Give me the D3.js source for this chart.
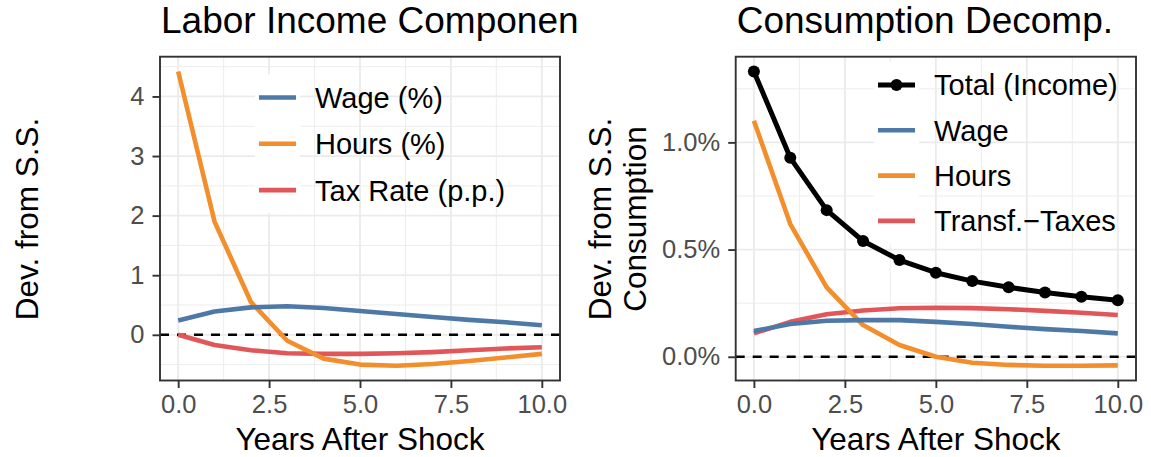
<!DOCTYPE html>
<html>
<head>
<meta charset="utf-8">
<script src="https://cdn.jsdelivr.net/npm/d3@7"></script>
<style>
  body { margin: 0; background: #fff; }
  text { font-family: "Liberation Sans", Arial, sans-serif; }
</style>
</head>
<body>
<div id="chart"></div>
<script>
// data (years after shock 0..10)
var years = [0, 1, 2, 3, 4, 5, 6, 7, 8, 9, 10];
var xTicks = [0, 2.5, 5, 7.5, 10];

// left panel: labor income components
var wagePct  = [0.24, 0.39, 0.46, 0.48, 0.45, 0.40, 0.35, 0.30, 0.25, 0.21, 0.16];
var hoursPct = [4.42, 1.90, 0.55, -0.10, -0.40, -0.50, -0.52, -0.49, -0.44, -0.38, -0.32];
var taxPP    = [0.00, -0.17, -0.26, -0.31, -0.32, -0.32, -0.31, -0.29, -0.26, -0.23, -0.21];
var leftTicks = [0, 1, 2, 3, 4];
var leftLabels = ["Wage (%)", "Hours (%)", "Tax Rate (p.p.)"];

// right panel: consumption decomposition (%)
var totalC  = [1.331, 0.928, 0.684, 0.540, 0.451, 0.392, 0.353, 0.324, 0.300, 0.280, 0.264];
var wageC   = [0.120, 0.153, 0.168, 0.171, 0.171, 0.163, 0.153, 0.140, 0.129, 0.120, 0.109];
var hoursC  = [1.101, 0.619, 0.324, 0.148, 0.055, 0.000, -0.028, -0.038, -0.042, -0.042, -0.040];
var transfC = [0.109, 0.163, 0.198, 0.216, 0.226, 0.229, 0.227, 0.222, 0.214, 0.205, 0.195];
var rightTicks = [0, 0.5, 1.0];
var rightLabels = ["Total (Income)", "Wage", "Hours", "Transf.\u2212Taxes"];

var blue = "#4E79A7", orange = "#F28E2B", red = "#E15759";

var W = 1151, H = 457;
var svg = d3.select("#chart").append("svg")
    .attr("width", W).attr("height", H);

svg.append("defs").append("clipPath").attr("id", "leftclip")
  .append("rect").attr("x", 0).attr("y", 0).attr("width", 577).attr("height", H);

function expand(vals) {
  var ext = d3.extent(vals);
  var pad = (ext[1] - ext[0]) * 0.05;
  return [ext[0] - pad, ext[1] + pad];
}

function panel(opt) {
  var g = svg.append("g");
  var x = d3.scaleLinear().domain([-0.5, 10.5]).range([opt.left, opt.right]);
  var y = d3.scaleLinear().domain(expand(d3.merge(opt.series.map(function(s) { return s.values; }))))
      .range([opt.bottom, opt.top]);

  // gridlines (minor then major)
  var xMinor = d3.range(1.25, 10, 2.5);
  var yStep = opt.yTicks[1] - opt.yTicks[0];
  var yMinor = d3.range(opt.yTicks[0] - yStep / 2, y.domain()[1], yStep)
      .filter(function(v) { return v > y.domain()[0] && opt.yTicks.indexOf(v) < 0; });
  g.selectAll(".xminor").data(xMinor).enter().append("line")
    .attr("x1", x).attr("x2", x).attr("y1", opt.top).attr("y2", opt.bottom)
    .attr("stroke", "#ebebeb").attr("stroke-width", 0.9);
  g.selectAll(".yminor").data(yMinor).enter().append("line")
    .attr("y1", y).attr("y2", y).attr("x1", opt.left).attr("x2", opt.right)
    .attr("stroke", "#ebebeb").attr("stroke-width", 0.9);
  g.selectAll(".xmajor").data(xTicks).enter().append("line")
    .attr("x1", x).attr("x2", x).attr("y1", opt.top).attr("y2", opt.bottom)
    .attr("stroke", "#ebebeb").attr("stroke-width", 1.8);
  g.selectAll(".ymajor").data(opt.yTicks).enter().append("line")
    .attr("y1", y).attr("y2", y).attr("x1", opt.left).attr("x2", opt.right)
    .attr("stroke", "#ebebeb").attr("stroke-width", 1.8);

  // zero line
  g.append("line")
    .attr("x1", opt.left).attr("x2", opt.right).attr("y1", y(0)).attr("y2", y(0))
    .attr("stroke", "#000").attr("stroke-width", 2.4).attr("stroke-dasharray", "9,8");

  // series
  var line = d3.line()
    .x(function(d, i) { return x(years[i]); })
    .y(function(d) { return y(d); });
  opt.series.slice().reverse().forEach(function(s) {
    g.append("path").datum(s.values)
      .attr("d", line).attr("fill", "none")
      .attr("stroke", s.color).attr("stroke-width", s.width)
      .attr("stroke-linejoin", "round");
    if (s.points) {
      g.selectAll(".pt").data(s.values).enter().append("circle")
        .attr("cx", function(d, i) { return x(years[i]); })
        .attr("cy", function(d) { return y(d); })
        .attr("r", 6).attr("fill", s.color);
    }
  });

  // border
  g.append("rect")
    .attr("x", opt.left).attr("y", opt.top)
    .attr("width", opt.right - opt.left).attr("height", opt.bottom - opt.top)
    .attr("fill", "none").attr("stroke", "#333").attr("stroke-width", 1.9);

  // axes
  var xAxis = g.append("g")
    .attr("transform", "translate(0," + opt.bottom + ")")
    .call(d3.axisBottom(x).tickValues(xTicks).tickFormat(d3.format(".1f")).tickSize(7.5).tickPadding(5));
  var yAxis = g.append("g")
    .attr("transform", "translate(" + opt.left + ",0)")
    .call(d3.axisLeft(y).tickValues(opt.yTicks).tickFormat(opt.yFormat).tickSize(7.5).tickPadding(8));
  [xAxis, yAxis].forEach(function(a) {
    a.select(".domain").remove();
    a.selectAll(".tick line").attr("stroke", "#333").attr("stroke-width", 1.9);
    a.selectAll(".tick text")
      .attr("fill", "#4d4d4d").style("font-size", "25.5px")
      .style("font-family", "'Liberation Sans', Arial, sans-serif");
  });
  xAxis.selectAll(".tick text").attr("dy", "0.78em");

  // titles
  var title = g.append("text")
    .attr("x", opt.left + 1).attr("y", 33)
    .style("font-size", "37px").attr("fill", "#000")
    .text(opt.title);
  if (opt.clip) title.attr("clip-path", "url(#" + opt.clip + ")");

  g.append("text")
    .attr("x", (opt.left + opt.right) / 2).attr("y", 450)
    .attr("text-anchor", "middle").style("font-size", "31.5px")
    .text("Years After Shock");

  opt.yTitle.forEach(function(t, i) {
    g.append("text")
      .attr("transform", "translate(" + opt.yTitleX[i] + ",219) rotate(-90)")
      .attr("text-anchor", "middle").style("font-size", "31.5px")
      .text(t);
  });

  // legend
  var lg = g.append("g");
  opt.series.forEach(function(s, i) {
    var cy = opt.legendY + i * opt.legendStep;
    lg.append("rect")
      .attr("x", opt.keyX - 4).attr("y", cy - opt.legendStep / 2)
      .attr("width", opt.keyW + 8).attr("height", opt.legendStep)
      .attr("fill", "#fff");
    lg.append("line")
      .attr("x1", opt.keyX).attr("x2", opt.keyX + opt.keyW)
      .attr("y1", cy).attr("y2", cy)
      .attr("stroke", s.color).attr("stroke-width", s.width);
    if (s.points) {
      lg.append("circle").attr("cx", opt.keyX + opt.keyW / 2).attr("cy", cy)
        .attr("r", 6).attr("fill", s.color);
    }
    lg.append("text")
      .attr("x", opt.keyX + opt.keyW + 19).attr("y", cy).attr("dy", "0.36em")
      .style("font-size", "29px").attr("fill", "#000")
      .text(opt.labels[i]);
  });
}

panel({
  left: 160, right: 560, top: 56.7, bottom: 380.5,
  title: "Labor Income Components", clip: "leftclip",
  yTicks: leftTicks, yFormat: d3.format("d"),
  yTitle: ["Dev. from S.S."], yTitleX: [38],
  labels: leftLabels, keyX: 259, keyW: 37, legendY: 97.5, legendStep: 46.3,
  series: [
    {values: wagePct, color: blue, width: 4.6},
    {values: hoursPct, color: orange, width: 4.6},
    {values: taxPP, color: red, width: 4.6}
  ]
});

panel({
  left: 735.7, right: 1136, top: 56.7, bottom: 380.5,
  title: "Consumption Decomp.",
  yTicks: rightTicks, yFormat: function(d) { return d3.format(".1f")(d) + "%"; },
  yTitle: ["Dev. from S.S.", "Consumption"], yTitleX: [611, 646],
  labels: rightLabels, keyX: 878, keyW: 37, legendY: 85, legendStep: 45.3,
  series: [
    {values: totalC, color: "#000", width: 5, points: true},
    {values: wageC, color: blue, width: 4.6},
    {values: hoursC, color: orange, width: 4.6},
    {values: transfC, color: red, width: 4.6}
  ]
});
</script>
</body>
</html>
